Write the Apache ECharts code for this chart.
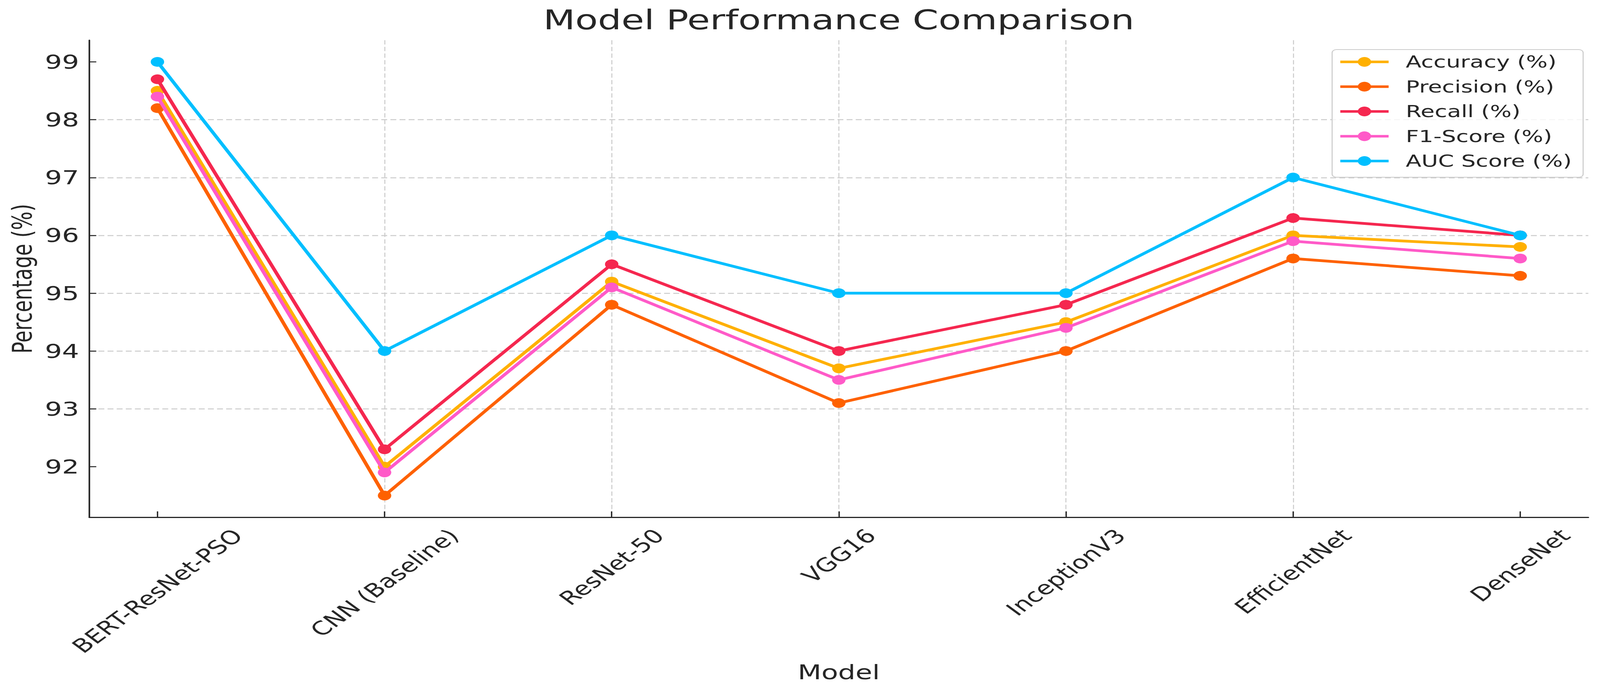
<!DOCTYPE html>
<html>
<head>
<meta charset="utf-8">
<script src="https://cdn.jsdelivr.net/npm/echarts@6/dist/echarts.min.js"></script>
<style>
html,body{margin:0;padding:0;background:#ffffff;overflow:hidden;width:100%;height:100%;}
#wrap{position:absolute;left:0;top:0;width:2981px;height:1765px;transform-origin:0 0;}
</style>
</head>
<body>
<div id="wrap"></div>
<script>
// ---- data ----
const categories = ['BERT-ResNet-PSO', 'CNN (Baseline)', 'ResNet-50', 'VGG16', 'InceptionV3', 'EfficientNet', 'DenseNet'];
const accuracy  = [98.5, 92.0, 95.2, 93.7, 94.5, 96.0, 95.8];
const precision = [98.2, 91.5, 94.8, 93.1, 94.0, 95.6, 95.3];
const recall    = [98.7, 92.3, 95.5, 94.0, 94.8, 96.3, 96.0];
const f1score   = [98.4, 91.9, 95.1, 93.5, 94.4, 95.9, 95.6];
const aucScore  = [99.0, 94.0, 96.0, 95.0, 95.0, 97.0, 96.0];
const seriesNames = ['Accuracy (%)', 'Precision (%)', 'Recall (%)', 'F1-Score (%)', 'AUC Score (%)'];
const yTicks = [92, 93, 94, 95, 96, 97, 98, 99];
const titleText = 'Model Performance Comparison';
const xName = 'Model';
const yName = 'Percentage (%)';

// ---- styles / layout ----
const colors = ['#FFB000', '#FE6100', '#F5274F', '#FF5AC8', '#00BFFF'];
const FONT = '"DejaVu Sans", sans-serif';
const TXT = '#262626';
const STRETCH = 1.43;            // the reference picture is stretched horizontally
const W0 = 2981, H0 = 1765;      // design frame before the stretch
const gridL = 166.4, gridR = 21.6, gridT = 103, gridB = 440;
const xFont = 48.5;

// fit the design frame to the real viewport
const vw = window.innerWidth || 4263, vh = window.innerHeight || 1765;
const wrap = document.getElementById('wrap');
wrap.style.transform = 'scale(' + (STRETCH * vw / 4263) + ',' + (vh / 1765) + ')';

const ctx = document.createElement('canvas').getContext('2d');
ctx.font = xFont + 'px "DejaVu Sans"';
const rich = {};
categories.forEach((c, i) => {
  const L = ctx.measureText(c).width;
  rich['c' + i] = {fontSize: xFont, fontFamily: FONT, color: TXT, lineHeight: xFont, padding: [L / 2, L / 2, 0, 0]};
});
const titleFont = 69;
ctx.font = titleFont + 'px "DejaVu Sans"';
const titleW = ctx.measureText(titleText).width;
const plotCenter = gridL + (W0 - gridL - gridR) / 2;

const seriesData = [accuracy, precision, recall, f1score, aucScore];
const catIdx = categories.map((_, i) => i);

const chart = echarts.init(wrap, null, {renderer: 'svg', width: W0, height: H0});
chart.setOption({
  animation: false,
  backgroundColor: '#ffffff',
  textStyle: {fontFamily: FONT},
  title: {
    text: titleText,
    left: plotCenter - titleW / 2,
    top: 17,
    padding: 0,
    textStyle: {fontSize: titleFont, fontWeight: 'normal', fontFamily: FONT, color: TXT}
  },
  legend: {
    orient: 'vertical',
    left: 2482,
    top: 127,
    itemWidth: 90,
    itemHeight: 31,
    itemGap: 20.5,
    padding: [10, 21, 20, 12],
    backgroundColor: 'rgba(255,255,255,0.8)',
    borderColor: '#cccccc',
    borderWidth: 2,
    borderRadius: 8,
    lineStyle: {width: 6.5},
    textStyle: {fontSize: 42.5, lineHeight: 43, fontFamily: FONT, color: TXT, padding: [0, 0, 0, 27]},
    data: seriesNames
  },
  grid: {left: gridL, right: gridR, top: gridT, bottom: gridB, containLabel: false, outerBoundsMode: 'none'},
  xAxis: {
    type: 'value',
    min: -0.3,
    max: 6.3,
    name: xName,
    nameLocation: 'middle',
    nameGap: 372,
    nameTextStyle: {fontSize: 51, fontFamily: FONT, color: TXT},
    axisLine: {show: true, onZero: false, lineStyle: {color: TXT, width: 3}},
    axisTick: {show: true, inside: true, length: 15, customValues: catIdx, lineStyle: {color: TXT, width: 2.5}},
    axisLabel: {
      show: true,
      customValues: catIdx,
      rotate: 45,
      align: 'center',
      verticalAlign: 'middle',
      margin: 39,
      hideOverlap: false,
      fontSize: xFont,
      fontFamily: FONT,
      color: TXT,
      formatter: v => '{c' + v + '|' + categories[v] + '}',
      rich: rich
    },
    splitLine: {show: true, showMinLine: false, showMaxLine: false, lineStyle: {type: [11, 6], color: '#cccccc', width: 1.9}}
  },
  yAxis: {
    type: 'value',
    min: 91.125,
    max: 99.375,
    name: yName,
    nameLocation: 'middle',
    nameRotate: 90,
    nameGap: 100,
    nameTextStyle: {fontSize: 50, fontFamily: FONT, color: TXT},
    axisLine: {show: true, onZero: false, lineStyle: {color: TXT, width: 3}},
    axisTick: {show: true, inside: true, length: 13, customValues: yTicks, lineStyle: {color: TXT, width: 2.5}},
    axisLabel: {show: true, customValues: yTicks, fontSize: 50, fontFamily: FONT, color: TXT, margin: 19},
    splitLine: {show: true, showMinLine: false, showMaxLine: false, lineStyle: {type: [11, 6], color: '#cccccc', width: 2.6}}
  },
  series: seriesNames.map((n, k) => ({
    name: n,
    type: 'line',
    data: seriesData[k].map((v, i) => [i, v]),
    symbol: 'circle',
    symbolSize: 25,
    showSymbol: true,
    z: 2 + k,
    lineStyle: {width: 7, color: colors[k]},
    itemStyle: {color: colors[k]},
    emphasis: {disabled: true}
  }))
});
</script>
</body>
</html>
